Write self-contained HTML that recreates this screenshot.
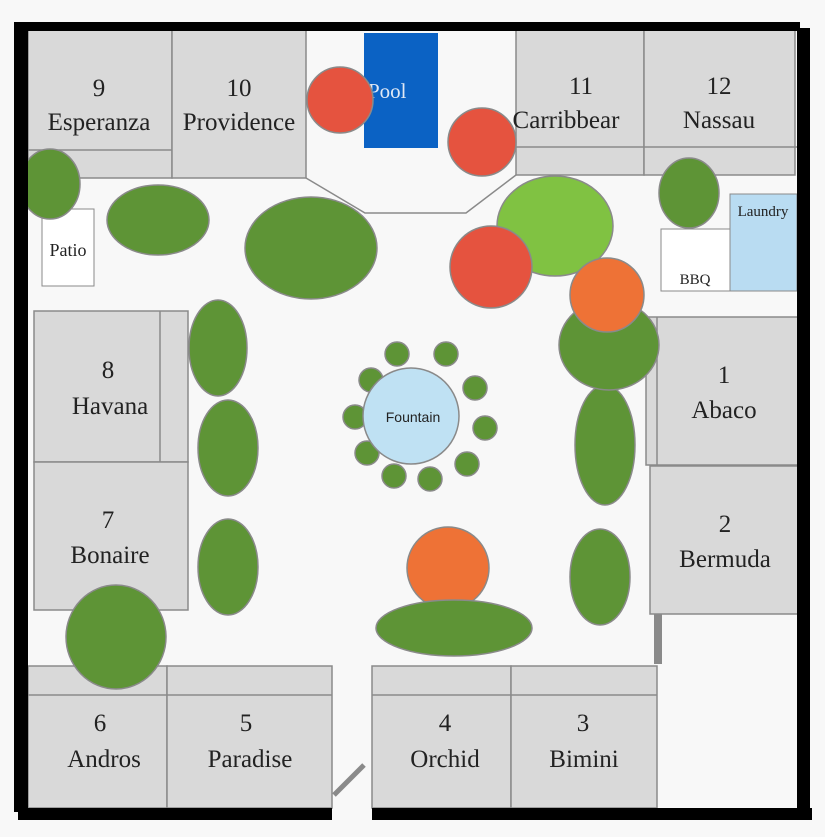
<!DOCTYPE html>
<html><head><style>
body{margin:0;background:#f7f7f7;}
svg{display:block;}
text{font-family:"Liberation Serif","Times New Roman",Times,serif;}
</style></head><body>
<svg width="825" height="837" viewBox="0 0 825 837">
<rect width="825" height="837" fill="#f8f8f8"/>
<g fill="#d9d9d9" stroke="#8a8a8a" stroke-width="1.5">
<rect x="28" y="30" width="144" height="148"/><line x1="28" y1="150" x2="306" y2="150"/>
<rect x="172" y="30" width="134" height="148"/>
<rect x="516" y="30" width="128" height="145"/><rect x="644" y="30" width="151" height="145"/>
<line x1="516" y1="147" x2="800" y2="147"/>
<rect x="34" y="311" width="154" height="151"/><line x1="160" y1="311" x2="160" y2="610"/>
<rect x="34" y="462" width="154" height="148"/>
<rect x="646" y="317" width="154" height="148"/><line x1="657" y1="317" x2="657" y2="465"/>
<rect x="650" y="466" width="153" height="148"/>
<rect x="28" y="666" width="139" height="142"/><rect x="167" y="666" width="165" height="142"/>
<rect x="372" y="666" width="139" height="142"/><rect x="511" y="666" width="146" height="142"/>
<line x1="28" y1="695" x2="332" y2="695"/><line x1="372" y1="695" x2="657" y2="695"/>
</g>
<rect x="654" y="614" width="8" height="50" fill="#8a8a8a"/>
<line x1="334" y1="795" x2="364" y2="765" stroke="#8a8a8a" stroke-width="5"/>
<polyline points="306,178 365,213 466,213 516,175" fill="none" stroke="#8a8a8a" stroke-width="1.5"/>
<rect x="364" y="33" width="74" height="115" fill="#0b62c4"/>
<text x="368" y="98" font-size="21" fill="#dfe8f5" font-family="Liberation Serif, serif">Pool</text>
<rect x="42" y="209" width="52" height="77" fill="#fff" stroke="#8a8a8a"/>
<rect x="661" y="229" width="69" height="62" fill="#fff" stroke="#8a8a8a"/>
<rect x="730" y="194" width="67" height="97" fill="#b9dcf2" stroke="#8a8a8a"/>
<g stroke="#8a8a8a" stroke-width="1.5">
<g fill="#5e9436">
<ellipse cx="50" cy="184" rx="30" ry="35"/><ellipse cx="158" cy="220" rx="51" ry="35"/>
<ellipse cx="311" cy="248" rx="66" ry="51"/><ellipse cx="689" cy="193" rx="30" ry="35"/>
<ellipse cx="218" cy="348" rx="29" ry="48"/><ellipse cx="228" cy="448" rx="30" ry="48"/>
<ellipse cx="228" cy="567" rx="30" ry="48"/><ellipse cx="605" cy="445" rx="30" ry="60"/>
<ellipse cx="600" cy="577" rx="30" ry="48"/><ellipse cx="116" cy="637" rx="50" ry="52"/>
<ellipse cx="609" cy="345" rx="50" ry="45"/>
</g>
<ellipse cx="555" cy="226" rx="58" ry="50" fill="#80c242"/>
<circle cx="340" cy="100" r="33" fill="#e5533f"/>
<circle cx="482" cy="142" r="34" fill="#e5533f"/>
<circle cx="491" cy="267" r="41" fill="#e5533f"/>
<circle cx="607" cy="295" r="37" fill="#ee7236"/>
<circle cx="448" cy="568" r="41" fill="#ee7236"/>
<ellipse cx="454" cy="628" rx="78" ry="28" fill="#5e9436"/>
<g fill="#5e9436">
<circle cx="397" cy="354" r="12"/><circle cx="446" cy="354" r="12"/><circle cx="475" cy="388" r="12"/>
<circle cx="485" cy="428" r="12"/><circle cx="467" cy="464" r="12"/><circle cx="430" cy="479" r="12"/>
<circle cx="394" cy="476" r="12"/><circle cx="367" cy="453" r="12"/><circle cx="355" cy="417" r="12"/>
<circle cx="371" cy="380" r="12"/>
</g>
<circle cx="411" cy="416" r="48" fill="#bfe1f3"/>
</g>
<g fill="#000" stroke="none">
<rect x="20" y="22" width="780" height="9"/>
<rect x="14" y="22" width="14" height="790"/>
<rect x="797" y="28" width="13" height="792"/>
<rect x="18" y="808" width="314" height="12"/>
<rect x="372" y="808" width="440" height="12"/>
</g>
<g font-size="25" fill="#222" text-anchor="middle" font-family="Liberation Serif, serif">
<text x="99" y="96">9</text><text x="99" y="130">Esperanza</text>
<text x="239" y="96">10</text><text x="239" y="130">Providence</text>
<text x="581" y="94">11</text><text x="566" y="128">Carribbear</text>
<text x="719" y="94">12</text><text x="719" y="128">Nassau</text>
<text x="108" y="378">8</text><text x="110" y="414">Havana</text>
<text x="108" y="528">7</text><text x="110" y="563">Bonaire</text>
<text x="724" y="383">1</text><text x="724" y="418">Abaco</text>
<text x="725" y="532">2</text><text x="725" y="567">Bermuda</text>
<text x="100" y="731">6</text><text x="104" y="767">Andros</text>
<text x="246" y="731">5</text><text x="250" y="767">Paradise</text>
<text x="445" y="731">4</text><text x="445" y="767">Orchid</text>
<text x="583" y="731">3</text><text x="584" y="767">Bimini</text>
<text x="68" y="256" font-size="18">Patio</text>
<text x="763" y="216" font-size="15">Laundry</text>
<text x="695" y="284" font-size="15">BBQ</text>
</g>
<text x="413" y="422" font-size="14" text-anchor="middle" font-family="Liberation Sans, sans-serif" style="font-family:'Liberation Sans',sans-serif" fill="#222">Fountain</text>
</svg>
</body></html>
